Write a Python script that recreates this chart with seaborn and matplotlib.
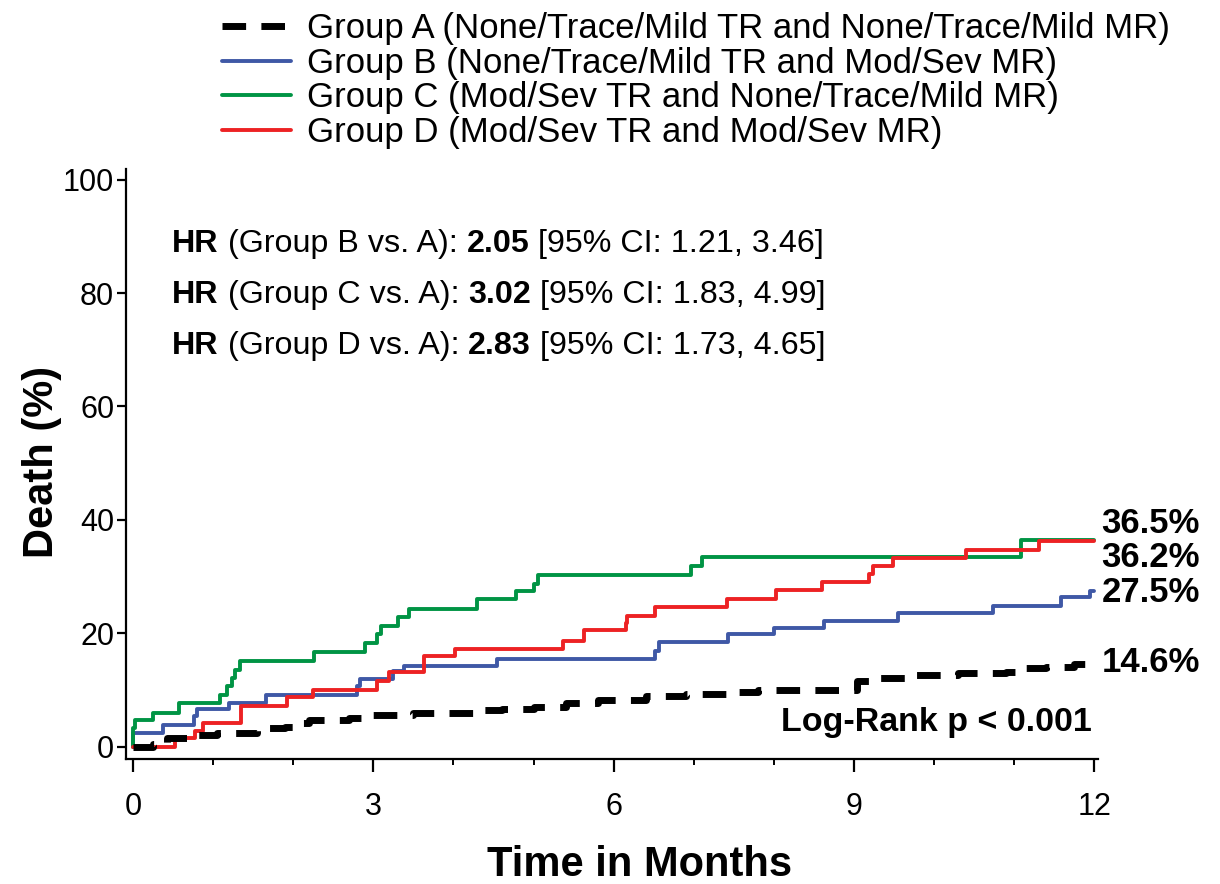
import numpy as np
import pandas as pd
import matplotlib
matplotlib.use("Agg")
import matplotlib.pyplot as plt
import seaborn as sns

# cumulative death (%), step points (month, %)
group_names = [
    "Group A (None/Trace/Mild TR and None/Trace/Mild MR)",
    "Group B (None/Trace/Mild TR and Mod/Sev MR)",
    "Group C (Mod/Sev TR and None/Trace/Mild MR)",
    "Group D (Mod/Sev TR and Mod/Sev MR)",
]

a_months = [0, 0.25, 0.42, 0.75, 1.05, 1.55, 1.9, 2.0, 2.2, 2.7, 3.0, 3.5, 4.25, 4.6, 5.0,
            5.4, 5.8, 6.4, 6.9, 7.4, 7.8, 9.04, 9.3, 9.7, 10.3, 10.9, 11.05, 11.4, 11.75, 12.0]
a_death = [0, 0.4, 1.5, 2.1, 2.4, 3.2, 3.5, 4.1, 4.7, 5.0, 5.6, 5.9, 6.5, 6.6, 6.9,
           7.6, 8.2, 8.9, 9.2, 9.6, 10.0, 11.5, 12.1, 12.6, 12.9, 13.2, 13.8, 14.0, 14.6, 14.6]

b_months = [0, 0, 0.37, 0.76, 0.8, 1.2, 1.66, 2.8, 2.83, 3.25, 3.38, 4.54, 6.51, 6.56, 7.43,
            8.0, 8.62, 9.55, 10.74, 11.58, 11.94, 12.0]
b_death = [0, 2.4, 3.8, 5.3, 6.6, 7.6, 9.1, 10.6, 11.9, 13.3, 14.2, 15.5, 16.9, 18.4, 19.8,
           20.9, 22.2, 23.5, 24.8, 26.4, 27.5, 27.5]

c_months = [0, 0, 0.02, 0.25, 0.58, 1.08, 1.17, 1.23, 1.27, 1.33, 2.26, 2.9, 3.05, 3.1, 3.31,
            3.45, 4.3, 4.78, 5.01, 5.06, 6.97, 7.1, 11.08, 12.0]
c_death = [0, 3.2, 4.7, 6.0, 7.6, 9.1, 10.6, 12.1, 13.5, 15.1, 16.6, 18.2, 19.9, 21.3, 22.8,
           24.2, 26.0, 27.4, 28.7, 30.3, 31.9, 33.4, 36.5, 36.5]

d_months = [0, 0.52, 0.77, 0.87, 1.35, 1.92, 2.25, 3.05, 3.2, 3.63, 4.02, 5.37, 5.63, 6.15,
            6.17, 6.51, 7.41, 8.02, 8.6, 9.19, 9.24, 9.49, 10.4, 11.31, 12.0]
d_death = [0, 1.5, 2.8, 4.1, 7.2, 8.7, 10.0, 11.5, 13.1, 16.0, 17.2, 18.6, 20.5, 21.8,
           23.1, 24.6, 26.0, 27.6, 29.1, 30.4, 31.9, 33.2, 34.7, 36.2, 36.2]

end_labels = ["36.5%", "36.2%", "27.5%", "14.6%"]
end_label_y = [39.3, 33.3, 27.1, 14.9]

hr_groups = ["B", "C", "D"]
hr_values = ["2.05", "3.02", "2.83"]
hr_ci = ["1.21, 3.46", "1.83, 4.99", "1.73, 4.65"]
hr_y = [88.6, 79.6, 70.6]

colors = ["black", "#3F58A6", "#009444", "#ED2224"]

frames = []
for name, t, p in zip(group_names, [a_months, b_months, c_months, d_months],
                      [a_death, b_death, c_death, d_death]):
    frames.append(pd.DataFrame({"month": t, "death": p, "group": name}))
df = pd.concat(frames, ignore_index=True)

sns.set_theme(style="ticks")
plt.rcParams["font.family"] = ["Liberation Sans", "DejaVu Sans"]
plt.rcParams["text.color"] = "black"
plt.rcParams["axes.labelcolor"] = "black"

fig = plt.figure(figsize=(12.2, 8.84), dpi=100)
ax = fig.add_axes([0.1033, 0.1414, 0.797, 0.6674])

# draw B, C, D first, dashed A on top
for i in [1, 2, 3, 0]:
    sub = df[df["group"] == group_names[i]]
    if i == 0:
        sns.lineplot(data=sub, x="month", y="death", ax=ax, color=colors[i], lw=5,
                     linestyle=(0, (3.4, 2.2)), drawstyle="steps-post",
                     estimator=None, sort=False, label=group_names[i])
    else:
        sns.lineplot(data=sub, x="month", y="death", ax=ax, color=colors[i], lw=2.8,
                     drawstyle="steps-post", estimator=None, sort=False,
                     label=group_names[i])

handles, labels = ax.get_legend_handles_labels()
if ax.get_legend() is not None:
    ax.get_legend().remove()
order = [labels.index(n) for n in group_names]
leg = fig.legend([handles[k] for k in order], [labels[k] for k in order],
                 loc="upper left", bbox_to_anchor=(222 / 1220, 1 - 12 / 884),
                 frameon=False, fontsize=25.0, handlelength=2.0, handletextpad=0.45,
                 labelspacing=0.05, borderpad=0, borderaxespad=0)
for t in leg.get_texts():
    t.set_color("black")

ax.set_xlim(-0.087, 12.05)
ax.set_ylim(-2.2, 101.9)
ax.set_xticks([0, 3, 6, 9, 12])
ax.set_xticks(np.arange(0, 13, 1), minor=True)
ax.set_yticks([0, 20, 40, 60, 80, 100])
sns.despine(ax=ax)
for s in ["left", "bottom"]:
    ax.spines[s].set_linewidth(1.6)
    ax.spines[s].set_color("black")
ax.tick_params(axis="x", which="major", length=9.5, width=1.6, pad=14, labelsize=22,
               color="black", labelcolor="black")
ax.tick_params(axis="x", which="minor", length=4.5, width=1.4, color="black")
ax.tick_params(axis="y", which="major", length=6.5, width=1.6, pad=2, labelsize=22,
               color="black", labelcolor="black")

ax.set_xlabel("Time in Months", fontsize=30, fontweight="bold")
ax.set_ylabel("Death (%)", fontsize=30, fontweight="bold")
ax.xaxis.set_label_coords(0.528, -0.146)
ax.yaxis.set_label_coords(-0.066, 0.503)

# hazard ratio lines, mixed bold / regular
for g, v, ci, y in zip(hr_groups, hr_values, hr_ci, hr_y):
    pieces = [("HR", "bold"), (f" (Group {g} vs. A): ", "normal"),
              (v, "bold"), (f" [95% CI: {ci}]", "normal")]
    prev = ax.text(0.487, y, pieces[0][0], fontsize=23.2, fontweight=pieces[0][1],
                   va="center", ha="left", color="black")
    for txt, w in pieces[1:]:
        prev = ax.annotate(txt, xy=(1, 0), xycoords=prev, fontsize=23.2, fontweight=w,
                           va="bottom", ha="left", color="black")

for lab, y in zip(end_labels, end_label_y):
    ax.text(12.09, y, lab, fontsize=25, fontweight="bold", va="center", ha="left",
            color="black")

ax.text(11.97, 4.3, "Log-Rank p < 0.001", fontsize=24.5, fontweight="bold",
        va="center", ha="right", color="black")

fig.savefig("out.png", dpi=100)
